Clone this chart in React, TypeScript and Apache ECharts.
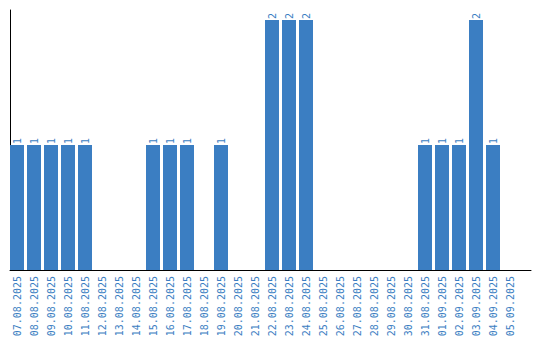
import React, { useEffect, useRef } from "react";
import * as echarts from "echarts";

const categories: string[] = [
  "07.08.2025", "08.08.2025", "09.08.2025", "10.08.2025", "11.08.2025",
  "12.08.2025", "13.08.2025", "14.08.2025", "15.08.2025", "16.08.2025",
  "17.08.2025", "18.08.2025", "19.08.2025", "20.08.2025", "21.08.2025",
  "22.08.2025", "23.08.2025", "24.08.2025", "25.08.2025", "26.08.2025",
  "27.08.2025", "28.08.2025", "29.08.2025", "30.08.2025", "31.08.2025",
  "01.09.2025", "02.09.2025", "03.09.2025", "04.09.2025", "05.09.2025",
];

const values: number[] = [
  1, 1, 1, 1, 1,
  0, 0, 0, 1, 1,
  1, 0, 1, 0, 0,
  2, 2, 2, 0, 0,
  0, 0, 0, 0, 1,
  1, 1, 2, 1, 0,
];

const BLUE = "#3b7ec2";
const FONT = "'DejaVu Sans Mono', 'Liberation Mono', monospace";

export default function App() {
  const ref = useRef<HTMLDivElement>(null);
  useEffect(() => {
    if (!ref.current) return;
    const chart = echarts.init(ref.current, undefined, { renderer: "svg" });
    chart.setOption({
      animation: false,
      backgroundColor: "#ffffff",
      grid: [
        { left: 8.5, right: 21.5, top: 10, bottom: 70 },
        { left: 10, right: 9, top: 10, bottom: 70 },
      ],
      xAxis: [
        {
          type: "category",
          gridIndex: 0,
          data: categories,
          axisLine: { show: false },
          axisTick: { show: false },
          axisLabel: {
            interval: 0,
            rotate: 90,
            margin: 6,
            color: BLUE,
            fontFamily: FONT,
            fontSize: 10,
          },
        },
        {
          type: "value",
          gridIndex: 1,
          min: 0,
          max: 1,
          axisLine: { show: true, lineStyle: { color: "#000", width: 1 } },
          axisTick: { show: false },
          axisLabel: { show: false },
          splitLine: { show: false },
        },
      ],
      yAxis: [
        {
          type: "value",
          gridIndex: 0,
          min: 0,
          max: 2.08,
          axisLine: { show: false },
          axisTick: { show: false },
          axisLabel: { show: false },
          splitLine: { show: false },
        },
        {
          type: "value",
          gridIndex: 1,
          min: 0,
          max: 1,
          axisLine: { show: true, lineStyle: { color: "#000", width: 1 } },
          axisTick: { show: false },
          axisLabel: { show: false },
          splitLine: { show: false },
        },
      ],
      series: [
        {
          type: "bar",
          xAxisIndex: 0,
          yAxisIndex: 0,
          data: values,
          barWidth: 14,
          itemStyle: { color: BLUE },
          label: {
            show: true,
            position: "top",
            rotate: 90,
            align: "left",
            verticalAlign: "middle",
            distance: 1,
            color: BLUE,
            fontFamily: FONT,
            fontSize: 10,
            formatter: (p: any) => (p.value ? String(p.value) : ""),
          },
        },
      ],
    });
    return () => chart.dispose();
  }, []);
  return (
    <div
      ref={ref}
      style={{ position: "fixed", left: 0, top: 0, width: 540, height: 340 }}
    />
  );
}
